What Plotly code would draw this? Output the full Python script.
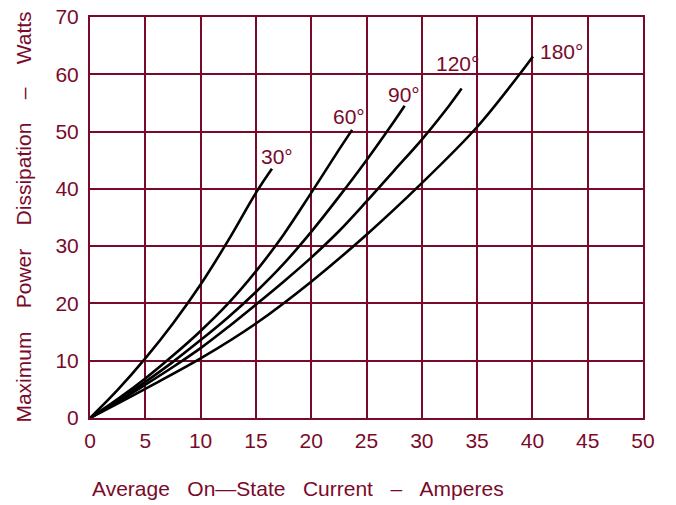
import plotly.graph_objects as go

MAROON = "#7A0A2A"

# Curves: conduction angle -> (average current A, power dissipation W)
x30 = [0, 2.5, 5, 7.5, 10, 12.5, 15, 16.45]
y30 = [0, 4.9, 10.4, 16.5, 23.3, 31.0, 39.3, 43.5]

x60 = [0, 2.5, 5, 7.5, 10, 12.5, 15, 17.5, 20, 22.5, 23.7]
y60 = [0, 3.3, 6.9, 10.9, 15.2, 20.0, 25.6, 32.0, 39.3, 46.8, 50.3]

x90 = [0, 2.5, 5, 7.5, 10, 12.5, 15, 17.5, 20, 22.5, 25, 27.5, 28.45]
y90 = [0, 3.0, 6.3, 9.8, 13.6, 17.6, 22.0, 26.9, 32.5, 38.6, 45.0, 51.8, 54.5]

x120 = [0, 2.5, 5, 7.5, 10, 12.5, 15, 17.5, 20, 22.5, 25, 27.5, 30, 32.5, 33.6]
y120 = [0, 2.8, 5.8, 8.9, 12.2, 15.9, 19.8, 23.8, 28.0, 32.6, 37.8, 43.2, 48.6, 54.6, 57.5]

x180 = [0, 5, 10, 15, 20, 25, 30, 35, 38.84, 40.05]
y180 = [0, 5.1, 10.4, 16.5, 23.8, 32.0, 41.0, 50.8, 60, 63.1]

labels = ["30°", "60°", "90°", "120°", "180°"]
label_x = [16.94, 23.4, 28.37, 33.2, 42.6]
label_y = [45.6, 52.65, 56.46, 61.95, 63.9]

x_ticks = [0, 5, 10, 15, 20, 25, 30, 35, 40, 45, 50]
y_ticks = [0, 10, 20, 30, 40, 50, 60, 70]

SP = "\u00a0\u00a0\u00a0"
SPY = "\u00a0\u00a0\u00a0\u00a0"
x_title = f"Average{SP}On—State{SP}Current{SP}–{SP}Amperes"
y_title = f"Maximum{SPY}Power{SPY}Dissipation{SPY}–{SPY}Watts"

TICK_FONT = dict(family="Liberation Sans, Arial, sans-serif", size=21, color=MAROON)
TITLE_FONT = dict(family="Liberation Sans, Arial, sans-serif", size=21, color=MAROON)

fig = go.Figure()
for xs, ys in [(x30, y30), (x60, y60), (x90, y90), (x120, y120), (x180, y180)]:
    fig.add_trace(go.Scatter(x=xs, y=ys, mode="lines",
                             line=dict(color="black", width=2.6, shape="spline", smoothing=1.0),
                             showlegend=False, hoverinfo="skip"))

for t, lx, ly in zip(labels, label_x, label_y):
    fig.add_annotation(x=lx, y=ly, text=t, showarrow=False, font=TICK_FONT,
                       xanchor="center", yanchor="middle")

fig.add_annotation(x=0, xref="paper", xanchor="left", y=-0.177, yref="paper", yanchor="middle",
                   text=x_title, showarrow=False, font=TITLE_FONT)
fig.add_annotation(x=-0.121, xref="paper", xanchor="center", y=0.5, yref="paper", yanchor="middle",
                   text=y_title, textangle=-90, showarrow=False, font=TITLE_FONT)

fig.update_xaxes(range=[0, 50], tickvals=x_ticks, ticktext=[str(v) for v in x_ticks],
                 showgrid=True, gridcolor=MAROON, gridwidth=2,
                 showline=True, linecolor=MAROON, linewidth=2, mirror=True,
                 zeroline=False, ticks="", tickfont=TICK_FONT, ticklabelstandoff=3,
                 automargin=False)
fig.update_yaxes(range=[0, 70], tickvals=y_ticks, ticktext=[str(v) for v in y_ticks],
                 showgrid=True, gridcolor=MAROON, gridwidth=2,
                 showline=True, linecolor=MAROON, linewidth=2, mirror=True,
                 zeroline=False, ticks="", tickfont=TICK_FONT, ticklabelstandoff=5,
                 automargin=False)

fig.update_layout(width=676, height=505, margin=dict(l=90, r=33, t=17, b=87),
                  plot_bgcolor="white", paper_bgcolor="white")

fig.write_html("out.html")
